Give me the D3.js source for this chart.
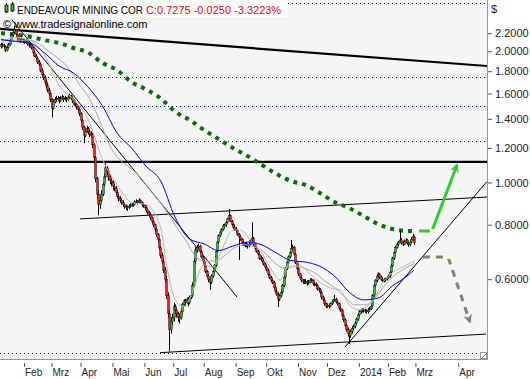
<!DOCTYPE html>
<html><head><meta charset="utf-8">
<script src="https://cdn.jsdelivr.net/npm/d3@7"></script>
<style>body{margin:0;background:#fff}svg{display:block}</style>
</head><body><svg id="c" width="530" height="379"></svg>
<script>
// [open, high, low, close] per trading day, mid-Jan 2013 .. 28 Feb 2014
const candles = [
[2.05,2.09,2.03,2.07],[2.07,2.09,2.04,2.06],[2.06,2.08,2.03,2.05],[2.05,2.06,1.99,2.01],[2.01,2.06,2.00,2.04],
[2.04,2.09,2.03,2.07],[2.07,2.14,2.06,2.12],[2.12,2.20,2.11,2.18],[2.18,2.24,2.16,2.21],[2.21,2.29,2.19,2.24],
[2.24,2.25,2.17,2.19],[2.19,2.20,2.13,2.15],[2.15,2.16,2.10,2.12],[2.12,2.14,2.09,2.11],[2.11,2.15,2.10,2.13],
[2.13,2.14,2.09,2.11],[2.11,2.13,2.08,2.10],[2.10,2.14,2.09,2.12],[2.12,2.13,2.06,2.08],[2.08,2.09,2.04,2.06],
[2.06,2.09,2.05,2.07],[2.07,2.08,2.02,2.04],[2.04,2.05,1.97,1.99],[1.99,2.01,1.94,1.95],[1.95,1.97,1.91,1.93],
[1.93,1.94,1.87,1.89],[1.89,1.91,1.85,1.87],[1.87,1.88,1.79,1.81],[1.81,1.83,1.75,1.77],[1.77,1.79,1.72,1.74],
[1.74,1.76,1.68,1.70],[1.70,1.72,1.65,1.67],[1.67,1.69,1.61,1.63],[1.63,1.65,1.58,1.60],[1.60,1.61,1.53,1.55],
[1.55,1.56,1.41,1.48],[1.48,1.55,1.47,1.53],[1.53,1.57,1.52,1.55],[1.56,1.58,1.53,1.55],[1.55,1.58,1.54,1.56],
[1.56,1.57,1.52,1.54],[1.54,1.58,1.53,1.56],[1.56,1.59,1.55,1.57],[1.57,1.58,1.53,1.55],[1.55,1.58,1.54,1.56],
[1.56,1.57,1.53,1.55],[1.55,1.59,1.54,1.57],[1.57,1.60,1.56,1.58],[1.58,1.59,1.55,1.56],[1.56,1.57,1.52,1.54],
[1.54,1.55,1.50,1.51],[1.52,1.53,1.49,1.51],[1.51,1.52,1.47,1.49],[1.49,1.50,1.45,1.47],[1.47,1.48,1.42,1.44],
[1.44,1.45,1.37,1.39],[1.39,1.40,1.32,1.34],[1.34,1.35,1.23,1.28],[1.28,1.33,1.27,1.31],[1.31,1.35,1.30,1.33],
[1.33,1.34,1.29,1.31],[1.31,1.32,1.27,1.29],[1.28,1.31,1.27,1.29],[1.29,1.30,1.20,1.22],[1.22,1.23,1.12,1.14],
[1.14,1.15,1.00,1.02],[1.02,1.03,0.92,0.94],[0.94,0.96,0.84,0.89],[0.89,0.93,0.87,0.91],[0.91,0.96,0.90,0.94],
[0.94,1.00,0.93,0.99],[0.99,1.05,0.98,1.03],[1.03,1.12,1.02,1.08],[1.08,1.09,1.04,1.06],[1.06,1.07,1.01,1.03],
[1.03,1.04,0.99,1.01],[1.01,1.02,0.98,1.00],[1.00,1.01,0.96,0.98],[0.98,0.99,0.955,0.97],[0.97,0.98,0.935,0.95],
[0.95,0.96,0.92,0.93],[0.93,0.94,0.905,0.92],[0.92,0.93,0.90,0.91],[0.91,0.92,0.89,0.90],[0.90,0.91,0.88,0.89],
[0.89,0.895,0.87,0.88],[0.875,0.89,0.865,0.88],[0.88,0.885,0.86,0.875],[0.875,0.89,0.87,0.88],[0.88,0.895,0.875,0.885],
[0.885,0.90,0.88,0.89],[0.895,0.90,0.88,0.89],[0.89,0.91,0.885,0.90],[0.90,0.915,0.895,0.905],[0.905,0.91,0.89,0.90],
[0.90,0.92,0.895,0.91],[0.91,0.915,0.895,0.90],[0.90,0.905,0.88,0.89],[0.89,0.895,0.875,0.885],[0.885,0.89,0.865,0.875],
[0.875,0.88,0.855,0.865],[0.865,0.87,0.845,0.855],[0.855,0.86,0.835,0.845],[0.845,0.85,0.82,0.83],[0.83,0.835,0.805,0.815],
[0.815,0.82,0.79,0.80],[0.80,0.805,0.77,0.78],[0.78,0.785,0.75,0.76],[0.76,0.765,0.73,0.74],[0.74,0.745,0.70,0.71],
[0.71,0.715,0.67,0.68],[0.68,0.69,0.65,0.66],[0.66,0.67,0.62,0.63],[0.63,0.64,0.59,0.60],[0.60,0.61,0.54,0.55],
[0.55,0.56,0.49,0.50],[0.50,0.51,0.41,0.46],[0.46,0.49,0.45,0.48],[0.48,0.50,0.47,0.49],[0.49,0.53,0.48,0.52],
[0.52,0.525,0.50,0.51],[0.51,0.515,0.49,0.50],[0.50,0.505,0.48,0.49],[0.485,0.50,0.475,0.49],[0.49,0.51,0.485,0.505],
[0.505,0.53,0.50,0.525],[0.525,0.54,0.52,0.535],[0.535,0.54,0.52,0.53],[0.53,0.545,0.525,0.54],[0.54,0.545,0.52,0.53],
[0.53,0.55,0.525,0.545],[0.545,0.56,0.54,0.55],[0.55,0.59,0.545,0.58],[0.58,0.67,0.575,0.66],[0.66,0.71,0.65,0.70],
[0.70,0.72,0.69,0.71],[0.71,0.725,0.70,0.715],[0.715,0.72,0.69,0.695],[0.695,0.70,0.67,0.675],[0.675,0.68,0.655,0.66],
[0.66,0.665,0.64,0.645],[0.645,0.65,0.62,0.625],[0.625,0.63,0.605,0.61],[0.61,0.615,0.59,0.60],[0.60,0.605,0.567,0.59],
[0.59,0.615,0.585,0.61],[0.61,0.63,0.605,0.625],[0.625,0.65,0.62,0.645],[0.645,0.70,0.64,0.695],[0.695,0.735,0.69,0.73],
[0.73,0.76,0.725,0.755],[0.755,0.775,0.75,0.77],[0.77,0.785,0.76,0.78],[0.78,0.80,0.775,0.795],[0.795,0.805,0.785,0.80],
[0.80,0.815,0.79,0.81],[0.81,0.83,0.805,0.825],[0.825,0.87,0.82,0.84],[0.84,0.845,0.81,0.815],[0.815,0.82,0.795,0.80],
[0.80,0.805,0.785,0.79],[0.79,0.80,0.775,0.78],[0.78,0.79,0.77,0.775],[0.775,0.78,0.755,0.76],[0.76,0.765,0.664,0.75],
[0.75,0.755,0.735,0.74],[0.74,0.745,0.725,0.73],[0.73,0.735,0.715,0.72],[0.72,0.73,0.71,0.715],[0.715,0.73,0.71,0.72],
[0.72,0.725,0.705,0.715],[0.715,0.73,0.71,0.72],[0.72,0.74,0.715,0.735],[0.735,0.81,0.73,0.745],[0.745,0.75,0.715,0.72],
[0.72,0.725,0.70,0.705],[0.705,0.71,0.69,0.695],[0.695,0.70,0.68,0.685],[0.685,0.69,0.665,0.67],[0.665,0.68,0.66,0.67],
[0.67,0.675,0.655,0.66],[0.66,0.665,0.645,0.65],[0.65,0.655,0.635,0.64],[0.64,0.645,0.625,0.63],[0.63,0.635,0.61,0.615],
[0.615,0.62,0.60,0.605],[0.605,0.61,0.59,0.597],[0.597,0.60,0.585,0.59],[0.59,0.595,0.57,0.575],[0.575,0.58,0.56,0.563],
[0.563,0.57,0.55,0.555],[0.555,0.56,0.518,0.54],[0.54,0.555,0.535,0.55],[0.55,0.565,0.545,0.56],[0.56,0.585,0.555,0.58],
[0.58,0.61,0.575,0.605],[0.605,0.64,0.60,0.635],[0.635,0.66,0.63,0.655],[0.655,0.68,0.65,0.675],[0.675,0.695,0.67,0.69],
[0.69,0.738,0.685,0.705],[0.705,0.72,0.70,0.71],[0.71,0.715,0.68,0.685],[0.685,0.69,0.65,0.655],[0.655,0.66,0.63,0.635],
[0.635,0.64,0.61,0.617],[0.617,0.62,0.60,0.604],[0.604,0.61,0.59,0.597],[0.597,0.60,0.585,0.593],[0.593,0.60,0.585,0.59],
[0.59,0.60,0.585,0.593],[0.593,0.597,0.58,0.587],[0.587,0.597,0.583,0.59],[0.59,0.603,0.587,0.597],[0.60,0.603,0.59,0.597],
[0.597,0.60,0.58,0.587],[0.587,0.592,0.578,0.584],[0.584,0.59,0.575,0.58],[0.58,0.585,0.565,0.57],[0.57,0.575,0.56,0.567],
[0.567,0.572,0.555,0.56],[0.56,0.565,0.54,0.546],[0.546,0.55,0.533,0.538],[0.538,0.542,0.522,0.527],[0.527,0.53,0.515,0.52],
[0.52,0.528,0.515,0.523],[0.523,0.527,0.514,0.52],[0.52,0.53,0.517,0.527],[0.527,0.535,0.523,0.532],[0.532,0.54,0.528,0.538],
[0.538,0.552,0.534,0.54],[0.54,0.544,0.528,0.532],[0.532,0.536,0.522,0.527],[0.527,0.53,0.51,0.515],[0.515,0.52,0.505,0.51],
[0.51,0.513,0.49,0.495],[0.495,0.50,0.478,0.484],[0.484,0.488,0.465,0.47],[0.47,0.474,0.455,0.46],[0.46,0.465,0.443,0.45],
[0.45,0.455,0.426,0.445],[0.445,0.46,0.44,0.455],[0.455,0.468,0.45,0.463],[0.463,0.472,0.458,0.468],[0.468,0.48,0.463,0.476],
[0.476,0.49,0.472,0.486],[0.486,0.50,0.482,0.497],[0.497,0.51,0.492,0.505],[0.505,0.512,0.50,0.508],[0.508,0.515,0.503,0.51],
[0.512,0.515,0.503,0.508],[0.506,0.513,0.502,0.508],[0.508,0.512,0.50,0.505],[0.505,0.515,0.50,0.51],[0.51,0.518,0.505,0.513],
[0.513,0.525,0.51,0.52],[0.52,0.555,0.518,0.55],[0.55,0.585,0.545,0.58],[0.58,0.60,0.575,0.597],[0.597,0.615,0.59,0.61],
[0.61,0.622,0.605,0.617],[0.617,0.62,0.60,0.607],[0.607,0.612,0.595,0.60],[0.60,0.605,0.59,0.597],[0.595,0.603,0.59,0.597],
[0.597,0.605,0.592,0.60],[0.60,0.608,0.596,0.604],[0.604,0.615,0.60,0.61],[0.61,0.628,0.605,0.623],[0.623,0.65,0.62,0.643],
[0.643,0.675,0.64,0.67],[0.67,0.695,0.665,0.69],[0.69,0.715,0.685,0.71],[0.71,0.728,0.705,0.722],[0.722,0.735,0.715,0.73],
[0.73,0.775,0.725,0.738],[0.738,0.745,0.72,0.727],[0.727,0.735,0.715,0.722],[0.722,0.74,0.72,0.73],[0.73,0.745,0.725,0.738],
[0.738,0.742,0.72,0.727],[0.727,0.73,0.712,0.72],[0.72,0.738,0.715,0.73],[0.73,0.75,0.725,0.74],[0.74,0.762,0.735,0.7525],
[0.75,0.755,0.72,0.7275]
];
// moving averages: [day index, price]
const ma200 = [[0,2.20],[10,2.185],[20,2.16],[30,2.12],[40,2.09],[50,2.035],[60,1.987],[70,1.88],[80,1.81],[90,1.70],[100,1.635],[110,1.56],[120,1.455],[130,1.392],[140,1.32],[150,1.258],[160,1.20],[170,1.15],[180,1.097],[190,1.046],[200,1.008],[210,0.987],[220,0.946],[230,0.902],[240,0.874],[250,0.838],[260,0.803],[270,0.782],[280,0.774],[285,0.774]];
const maBlue = [[0,2.128],[10,2.106],[20,2.089],[30,1.982],[40,1.851],[50,1.783],[60,1.656],[70,1.498],[80,1.299],[90,1.20],[100,1.09],[110,1.01],[120,0.833],[130,0.742],[140,0.723],[150,0.698],[160,0.715],[170,0.730],[180,0.719],[190,0.689],[200,0.662],[210,0.657],[220,0.642],[230,0.610],[240,0.561],[250,0.538],[260,0.543],[270,0.579],[280,0.610],[285,0.630]];
const maGraySlow = [[0,2.12],[20,2.12],[33.8,1.99],[47.6,1.81],[54.5,1.67],[61.4,1.55],[68.3,1.38],[75.2,1.21],[82.1,1.126],[89,1.08],[95.9,1.03],[102.8,0.96],[109.7,0.90],[116.6,0.835],[120,0.80],[127,0.74],[133.8,0.68],[140.7,0.66],[147.6,0.66],[154.5,0.68],[161.4,0.71],[168.3,0.72],[175.2,0.71],[182,0.69],[189,0.653],[195.9,0.635],[202.8,0.643],[209.7,0.635],[216.6,0.62],[223.4,0.594],[230.3,0.573],[237.2,0.546],[244.1,0.524],[251,0.524],[257.9,0.543],[264.8,0.582],[271.7,0.613],[278.6,0.635],[285.5,0.653]];
const maGrayFast = [[0,2.10],[10,2.15],[20,2.12],[30,1.96],[40,1.67],[50,1.55],[60,1.40],[70,1.13],[80,0.99],[90,0.90],[100,0.89],[110,0.79],[114.5,0.64],[120,0.54],[125.5,0.52],[130,0.54],[132.5,0.567],[140,0.647],[146,0.64],[153,0.71],[160,0.778],[165,0.778],[172,0.738],[178.6,0.70],[185.5,0.64],[192.4,0.597],[197,0.64],[201,0.664],[208,0.64],[218,0.597],[227,0.573],[233.8,0.567],[241,0.52],[248,0.51],[252,0.52],[257,0.538],[263,0.588],[270,0.62],[280,0.647],[285.5,0.662]];
// drawn lines: [[idx,price],[idx,price]]
const thickTrend = [[-0.7,2.25],[335.2,1.85]];
const downTrend = [[7.6,2.36],[162.8,0.546]];
const upperLine = [[54.5,0.825],[335.2,0.926]];
const supportLine = [[109.7,0.407],[334.5,0.449]];
const upTrend = [[237.2,0.419],[335.2,1.005]];
const resistance = 1.115;
const dottedLevels = [2.58,1.75,1.50,1.243,0.406];
const greenArrow = [[288.3,0.774],[297.2,0.774],[314.5,1.097]];
const grayArrow = [[291,0.675],[308.3,0.675],[323.4,0.479]];
// axes
const yTicks = [2.2,2.0,1.8,1.6,1.4,1.2,1.0,0.8,0.6];
const monthLabels = ['Feb','Mrz','Apr','Mai','Jun','Jul','Aug','Sep','Okt','Nov','Dez','2014','Feb','Mrz','Apr'];
const monthStarts = [15.5,34.5,54.5,76.5,98.5,118.5,139.5,161.5,182.5,204.5,224.5,246.5,266.5,285.5,315];
const titleName = 'ENDEAVOUR MINING COR';
const titleQuote = 'C:0.7275 -0.0250 -3.3223%';
const copyright = '\u00A9 www.tradesignalonline.com';

const W=530,H=379,PW=487,PH=359;
const svg=d3.select('#c');
const x=d3.scaleLinear().domain([-0.7,335.2]).range([0,PW]);
const y=d3.scaleLog().domain([0.3936,2.622]).range([PH,0]);
const FONT='"Liberation Sans", Arial, sans-serif';

svg.append('rect').attr('width',W).attr('height',H).attr('fill','#fff');
svg.append('rect').attr('width',PW).attr('height',PH).attr('fill','#f5f5f5');
const defs=svg.append('defs');
defs.append('clipPath').attr('id','pc').append('rect').attr('width',PW).attr('height',PH);
function marker(id,color){
  defs.append('marker').attr('id',id).attr('viewBox','0 0 10 10').attr('refX',8).attr('refY',5)
    .attr('markerWidth',9).attr('markerHeight',9).attr('markerUnits','userSpaceOnUse').attr('orient','auto')
    .append('path').attr('d','M0,0L10,5L0,10L3,5Z').attr('fill',color);
}
marker('ag','#33cc33'); marker('ay','#808080');

const g=svg.append('g').attr('clip-path','url(#pc)');
const line=d3.line().x(d=>x(d[0])).y(d=>y(d[1]));
const smooth=d3.line().x(d=>x(d[0])).y(d=>y(d[1])).curve(d3.curveMonotoneX);

// dotted blue levels
g.selectAll('line.lvl').data(dottedLevels).join('line').attr('class','lvl')
 .attr('x1',0).attr('x2',PW).attr('y1',d=>Math.round(y(d))+0.5).attr('y2',d=>Math.round(y(d))+0.5)
 .attr('stroke','#0000ff').attr('stroke-width',1).attr('stroke-dasharray','1,3');
// resistance
g.append('line').attr('x1',0).attr('x2',PW).attr('y1',y(resistance)).attr('y2',y(resistance))
 .attr('stroke','#000').attr('stroke-width',2.2);
g.append('path').attr('d',line(thickTrend)).attr('stroke','#000').attr('stroke-width',2.2).attr('fill','none');
[downTrend,upperLine,supportLine,upTrend].forEach(l=>{
  g.append('path').attr('d',line(l)).attr('stroke','#000').attr('stroke-width',1).attr('fill','none');
});
// 200 MA dotted
g.append('path').attr('d',smooth(ma200)).attr('stroke','#0b6e0b').attr('stroke-width',4)
 .attr('stroke-dasharray','4,5').attr('fill','none');

// candles
const cg=g.append('g');
cg.selectAll('line').data(candles).join('line')
 .attr('x1',(d,i)=>Math.round(x(i))+0.5).attr('x2',(d,i)=>Math.round(x(i))+0.5)
 .attr('y1',d=>y(d[1])).attr('y2',d=>y(d[2])).attr('stroke','#000').attr('stroke-width',1);
cg.selectAll('rect').data(candles).join('rect')
 .attr('x',(d,i)=>Math.round(x(i))-0.5).attr('width',2)
 .attr('y',d=>y(Math.max(d[0],d[3])))
 .attr('height',d=>Math.max(1,y(Math.min(d[0],d[3]))-y(Math.max(d[0],d[3]))))
 .attr('fill',d=>d[3]>=d[0]?'#2fb52f':'#ff1a1a').attr('stroke','#000').attr('stroke-width',0.4);

// moving averages
g.append('path').attr('d',smooth(maGraySlow)).attr('stroke','#a8a8a8').attr('stroke-width',1).attr('fill','none');
g.append('path').attr('d',smooth(maGrayFast)).attr('stroke','#b8b8b8').attr('stroke-width',1).attr('fill','none');
g.append('path').attr('d',smooth(maBlue)).attr('stroke','#0000ff').attr('stroke-width',1).attr('fill','none');

// projection arrows
g.append('path').attr('d',line(greenArrow)).attr('stroke','#33cc33').attr('stroke-width',3)
 .attr('fill','none').attr('marker-end','url(#ag)');
g.append('path').attr('d',line(grayArrow)).attr('stroke','#808080').attr('stroke-width',3)
 .attr('stroke-dasharray','7,6').attr('fill','none').attr('marker-end','url(#ay)');
[greenArrow[1],grayArrow[1]].forEach(p=>{
  g.append('rect').attr('x',x(p[0])-2).attr('y',y(p[1])-2).attr('width',4).attr('height',4).attr('fill','#ffffc8');
});

// frame
svg.append('line').attr('x1',PW+0.5).attr('x2',PW+0.5).attr('y1',0).attr('y2',PH+1).attr('stroke','#999');
svg.append('line').attr('x1',0).attr('x2',PW+1).attr('y1',PH+0.5).attr('y2',PH+0.5).attr('stroke','#999');
svg.append('rect').attr('x',PW-6.5).attr('y',PH-6.5).attr('width',6).attr('height',6).attr('fill','#fff').attr('stroke','#999');
svg.append('line').attr('x1',PW-6).attr('y1',PH).attr('x2',PW).attr('y2',PH-6).attr('stroke','#666');

// y axis
const ya=svg.append('g').attr('transform',`translate(${PW+1},0)`)
 .call(d3.axisRight(y).tickValues(yTicks).tickFormat(d3.format('.4f')).tickSize(4).tickPadding(3));
ya.select('.domain').remove();
ya.selectAll('line').attr('stroke','#555');
ya.selectAll('text').attr('font-family',FONT).attr('font-size',11).attr('fill','#1c1c2c');
svg.append('text').attr('x',491).attr('y',13).text('$').attr('font-family',FONT).attr('font-size',11).attr('fill','#1c1c2c');

// x axis
const xa=svg.append('g').attr('transform',`translate(0,${PH+4})`)
 .call(d3.axisBottom(x).tickValues(monthStarts).tickFormat((d,i)=>monthLabels[i]).tickSize(4).tickPadding(0));
xa.select('.domain').remove();
xa.selectAll('.tick line').attr('stroke','#555').attr('transform','translate(0.5,0)');
xa.selectAll('.tick text').attr('text-anchor','start').attr('x',1).attr('y',13).attr('dy',0)
 .attr('font-family',FONT).attr('font-size',10).attr('fill','#1c1c2c');

// title
svg.append('rect').attr('width',288).attr('height',17).attr('fill','#fff');
const ic=svg.append('g');
[[5,3,13,5,7],[11,2,12,4,7]].forEach(c=>{
  ic.append('line').attr('x1',c[0]+1.5).attr('x2',c[0]+1.5).attr('y1',c[1]).attr('y2',c[2]).attr('stroke','#000');
  ic.append('rect').attr('x',c[0]).attr('y',c[3]).attr('width',3).attr('height',c[4]).attr('fill','#2fb52f').attr('stroke','#000').attr('stroke-width',0.8);
});
svg.append('text').attr('x',17).attr('y',14).text(titleName).attr('font-family',FONT).attr('font-size',11)
 .attr('fill','#000').attr('textLength',126).attr('lengthAdjust','spacingAndGlyphs');
svg.append('text').attr('x',146).attr('y',14).text(titleQuote).attr('font-family',FONT).attr('font-size',11).attr('fill','#ff0000');
svg.append('text').attr('x',3).attr('y',28).text(copyright).attr('font-family',FONT).attr('font-size',11).attr('fill','#000');
</script></body></html>
